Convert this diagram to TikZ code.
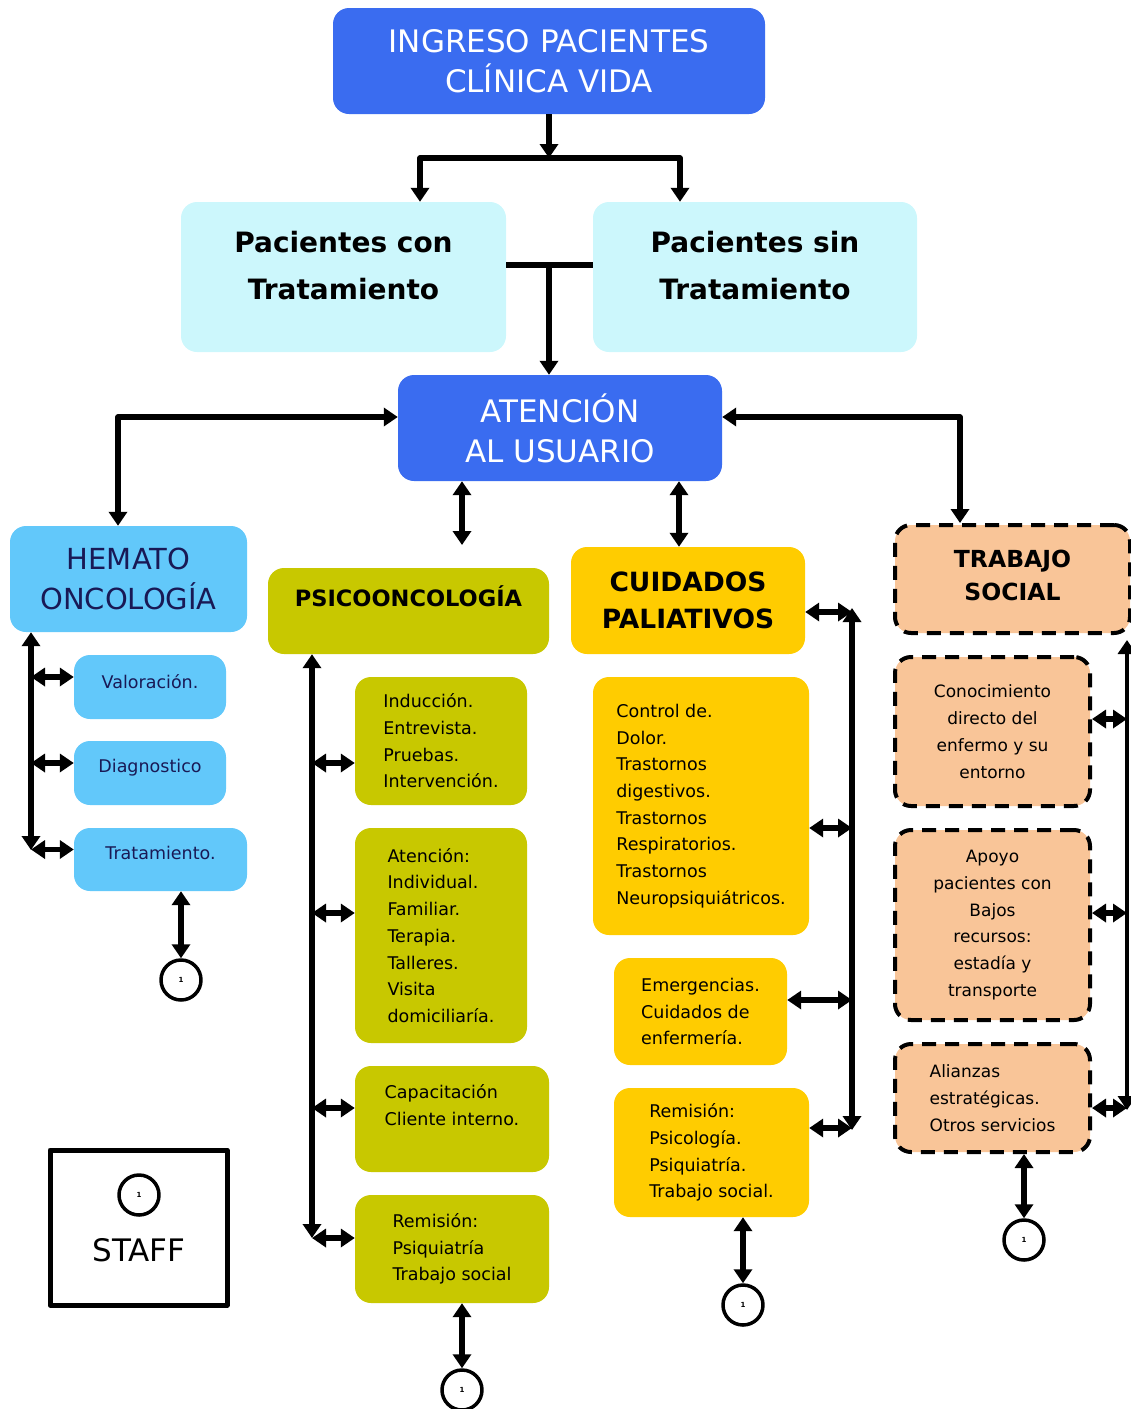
\documentclass[tikz,border=0pt]{standalone}
\usepackage{fontspec}
\setmainfont{DejaVu Sans}
\usetikzlibrary{arrows.meta}
\definecolor{azul}{RGB}{58,108,240}
\definecolor{cian}{RGB}{204,247,252}
\definecolor{celeste}{RGB}{98,200,250}
\definecolor{oliva}{RGB}{200,200,0}
\definecolor{oro}{RGB}{255,204,0}
\definecolor{durazno}{RGB}{249,197,152}
\definecolor{marino}{RGB}{25,25,85}
\newcommand{\tam}[2]{\fontsize{#1}{#2}\selectfont}
\begin{document}
\begin{tikzpicture}[x=1pt, y=-1pt, line join=round,
  >={Triangle[length=14pt,width=18pt]},
  caja/.style={rectangle, rounded corners=16pt, inner sep=0pt, align=center},
  lista/.style={caja, align=left, font=\tam{17.5}{26.7}},
  ts/.style={caja, draw=black, line width=4pt, dash pattern=on 14pt off 9pt, fill=durazno},
  uno/.style={circle, draw, line width=3.5pt, minimum size=40pt, inner sep=0pt, font=\tam{7}{8}\bfseries},
  con/.style={line width=5.5pt}]
\useasboundingbox (0,0) rectangle (1131,1409);
% arriba
\node[caja, fill=azul, text=white, font=\tam{31}{40}, minimum width=432, minimum height=106] (ingreso) at (549,61) {INGRESO PACIENTES\\CLÍNICA VIDA};
\node[caja, fill=cian, font=\tam{28}{47}\bfseries, minimum width=325, minimum height=150, text depth=23pt] (pcon) at (343.5,277) {Pacientes con\\Tratamiento};
\node[caja, fill=cian, font=\tam{28}{47}\bfseries, minimum width=324, minimum height=150, text depth=23pt] (psin) at (755,277) {Pacientes sin\\Tratamiento};
\node[caja, fill=azul, text=white, font=\tam{31}{40}, minimum width=324, minimum height=106] (aten) at (560,428) {ATENCIÓN\\AL USUARIO};
% hemato oncologia
\node[caja, fill=celeste, text=marino, font=\tam{29}{40}, minimum width=237, minimum height=106] (hemato) at (128.5,579) {HEMATO\\ONCOLOGÍA};
\node[lista, fill=celeste, text=marino, minimum width=152, minimum height=64, text depth=12pt] (val) at (150,687) {Valoración.};
\node[lista, fill=celeste, text=marino, minimum width=152, minimum height=64, text depth=14pt] (diag) at (150,773) {Diagnostico};
\node[lista, fill=celeste, text=marino, minimum width=173, minimum height=63, text depth=13pt] (trat) at (160.5,859.5) {Tratamiento.};
\node[uno] (c1) at (181,980) {1};
% psicooncologia
\node[caja, fill=oliva, font=\tam{22.5}{30}\bfseries, minimum width=281, minimum height=86, text depth=30pt] (psico) at (408.5,611) {PSICOONCOLOGÍA};
\node[lista, fill=oliva, minimum width=172, minimum height=128] (induc) at (441,741) {Inducción.\\Entrevista.\\Pruebas.\\Intervención.};
\node[lista, fill=oliva, minimum width=172, minimum height=215] (atenc) at (441,935.5) {Atención:\\Individual.\\Familiar.\\Terapia.\\Talleres.\\Visita\\domiciliaría.};
\node[lista, fill=oliva, minimum width=194, minimum height=106, text depth=28pt] (capac) at (452,1119) {Capacitación\\Cliente interno.};
\node[lista, fill=oliva, minimum width=194, minimum height=108] (remps) at (452,1249) {Remisión:\\Psiquiatría\\Trabajo social};
\node[uno] (c2) at (462,1390) {1};
% cuidados paliativos
\node[caja, fill=oro, font=\tam{26.5}{37}\bfseries, minimum width=234, minimum height=107] (cuid) at (688,600.5) {CUIDADOS\\PALIATIVOS};
\node[lista, fill=oro, minimum width=216, minimum height=258] (ctrl) at (701,806) {Control de.\\Dolor.\\Trastornos\\digestivos.\\Trastornos\\Respiratorios.\\Trastornos\\Neuropsiquiátricos.};
\node[lista, fill=oro, minimum width=173, minimum height=107] (emerg) at (700.5,1011.5) {Emergencias.\\Cuidados de\\enfermería.};
\node[lista, fill=oro, minimum width=195, minimum height=129] (remcp) at (711.5,1152.5) {Remisión:\\Psicología.\\Psiquiatría.\\Trabajo social.};
\node[uno] (c3) at (743,1305) {1};
% trabajo social
\node[ts, font=\tam{23.5}{33}\bfseries, minimum width=235, minimum height=108, text depth=8pt] (trab) at (1012.5,579) {TRABAJO\\SOCIAL};
\node[ts, font=\tam{17}{27}, minimum width=195, minimum height=149] (conoc) at (992.5,731.5) {Conocimiento\\directo del\\enfermo y su\\entorno};
\node[ts, font=\tam{17}{26.7}, minimum width=195, minimum height=190] (apoyo) at (992.5,925) {Apoyo\\pacientes con\\Bajos\\recursos:\\estadía y\\transporte};
\node[ts, font=\tam{17}{26.7}, align=left, minimum width=195, minimum height=108] (alian) at (992.5,1098) {Alianzas\\estratégicas.\\Otros servicios};
\node[uno] (c4) at (1024,1240) {1};
% staff
\node[draw, line width=5pt, fill=white, minimum width=177, minimum height=155] (staff) at (138.5,1227.5) {};
\node[uno] (c5) at (139,1195) {1};
\node[font=\tam{31}{34}] (stafftxt) at (139,1250) {STAFF};
% conectores
\coordinate (split) at (549,158);
\coordinate (join) at (549,265);
\draw[->, con] (ingreso.south) -- (split);
\draw[<->, con] ([xshift=76.5pt]pcon.north) |- (split) -| ([xshift=-75pt]psin.north);
\draw[con] (pcon.east |- join) -- (psin.west |- join);
\draw[->, con] (join) -- (join |- aten.north);
\draw[<->, con] ([xshift=-10.5pt]hemato.north) |- ([yshift=11pt]aten.west);
\draw[<->, con] ([yshift=11pt]aten.east) -| ([xshift=-52.5pt]trab.north);
\coordinate (psitop) at (462,545);
\draw[<->, con] (aten.south -| psitop) -- (psitop);
\draw[<->, con] ([xshift=119pt]aten.south) -- ([xshift=-9pt]cuid.north);
% buses
\coordinate (hbus) at (31,850);
\draw[<->, con] (hemato.south -| hbus) -- (hbus);
\foreach \n in {val,diag,trat}
  \draw[<->, con] ([yshift=10pt]\n.west -| hbus) -- ([yshift=10pt]\n.west);
\coordinate (pbus) at (312,1238);
\draw[<->, con] (psico.south -| pbus) -- (pbus);
\foreach \n/\s in {induc/-22, atenc/22.5, capac/11, remps/11}
  \draw[<->, con] ([yshift=\s pt]\n.west -| pbus) -- ([yshift=\s pt]\n.west);
\coordinate (cbusT) at (852,608);
\coordinate (cbusB) at (852,1130);
\draw[<->, con] (cbusT) -- (cbusB);
\foreach \n/\s in {cuid/-11.5, ctrl/-22, emerg/11.5, remcp/24.5}
  \draw[<->, con] ([yshift=\s pt]\n.east) -- ([yshift=\s pt]\n.east -| cbusT);
\coordinate (tbusT) at (1127,640);
\coordinate (tbusB) at (1127,1110);
\draw[<->, line width=3.5pt] (tbusT) -- (tbusB);
\foreach \n/\s in {conoc/12.5, apoyo/12, alian/-10}
  \draw[<->, con] ([yshift=\s pt]\n.east) -- ([yshift=\s pt]\n.east -| tbusT);
% a staff
\draw[<->, con] (trat.south -| c1) -- (c1);
\draw[<->, con] (remps.south -| c2) -- (c2);
\draw[<->, con] (remcp.south -| c3) -- (c3);
\draw[<->, con] (alian.south -| c4) -- (c4);
\end{tikzpicture}
\end{document}
